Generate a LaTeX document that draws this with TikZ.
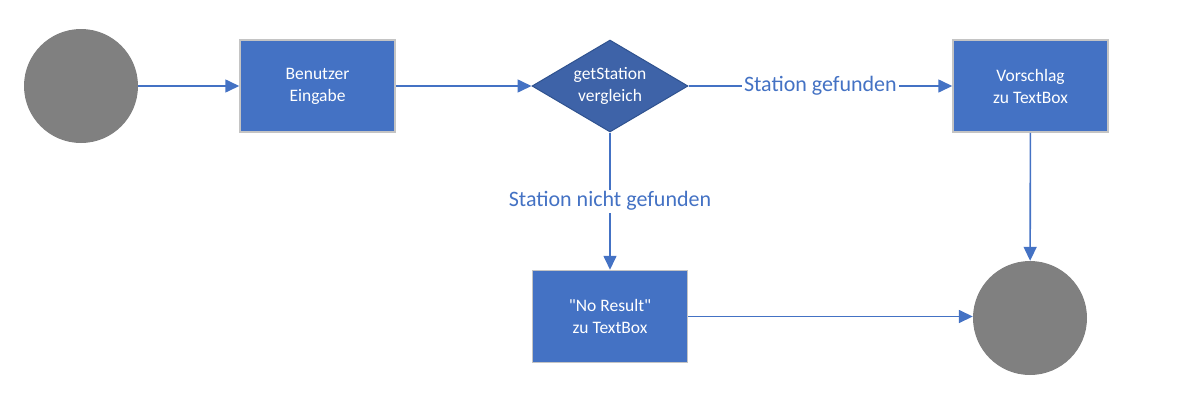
\documentclass[tikz,border=0pt]{standalone}
\usepackage{fontspec}
\setmainfont{Carlito}[Ligatures=TeXOff]
\usetikzlibrary{shapes.geometric,arrows.meta}

\definecolor{flowblue}{HTML}{4472C4}
\definecolor{flowdark}{HTML}{3E63A8}
\definecolor{flowedge}{HTML}{2F528F}
\definecolor{flowgray}{HTML}{808080}
\definecolor{boxedge}{HTML}{C4C4C4}

\begin{document}
\begin{tikzpicture}[x=1pt,y=-1pt,
        box/.style={rectangle,fill=flowblue,draw=boxedge,line width=1.5pt,
            minimum width=155pt,minimum height=92pt,text=white,align=center,
            font=\fontsize{17.5}{22}\selectfont},
        check/.style={diamond,fill=flowdark,draw=flowedge,line width=1pt,
            minimum width=156pt,minimum height=92pt,inner sep=0pt,aspect=1.7,
            text=white,align=center,font=\fontsize{17.5}{22}\selectfont},
        terminal/.style={circle,fill=flowgray,minimum size=114pt,inner sep=0pt},
        flow/.style={draw=flowblue,line width=1.6pt,-{Triangle[length=14pt,width=13pt]}},
        flowlabel/.style={fill=white,text=flowblue,inner sep=2pt,
            font=\fontsize{22}{26}\selectfont}]
        \useasboundingbox (0,0) rectangle (1187,405);
        % Nodes of the flow
        \node[terminal] (start) at (81,86) {};
        \node[box] (eingabe) at (317.5,86) {Benutzer\\Eingabe};
        \node[check] (vergleich) at (610,86) {getStation\\vergleich};
        \node[box] (vorschlag) at (1030.5,86) {Vorschlag\\zu TextBox};
        \node[box] (noresult) at (610,316.5) {"No Result"\\zu TextBox};
        \node[terminal] (stop) at (1030,318) {};
        % Connectors
        \draw[flow] (start) -- (eingabe);
        \draw[flow] (eingabe) -- (vergleich);
        \draw[flow] (vergleich) -- node[flowlabel] {Station gefunden} (vorschlag);
        \draw[flow] (vergleich) -- node[flowlabel,pos=0.5] {Station nicht gefunden} (noresult);
        \draw[flow] (vorschlag) -- (stop);
        \draw[flow] (noresult.east) -- (stop.west |- noresult.east);
    \end{tikzpicture}
\end{document}
